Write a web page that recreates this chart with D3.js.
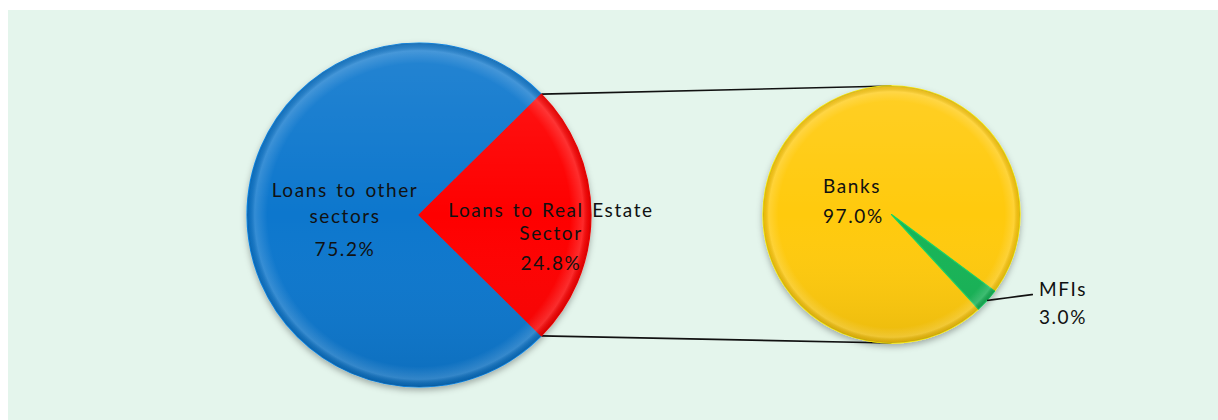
<!DOCTYPE html>
<html lang="en">

<head>
  <title></title>
  <meta charset="UTF-8">
  <style>
    body {
      margin: 0;
      background: #fff;
    }
    text {
      font-family: 'Lato', 'DejaVu Sans', sans-serif;
      font-size: 19px;
      letter-spacing: 1.6px;
      word-spacing: 2px;
      fill: #111;
    }
  </style>
</head>

<body>
  <div id="container"></div>
  <script src="https://cdn.jsdelivr.net/npm/d3@7"></script>
  <script>
    // data
    const mainLabels = ['Loans to other sectors', 'Loans to Real Estate Sector'];
    const mainLines = [['Loans to other', 'sectors'], ['Loans to Real Estate', 'Sector']];
    const mainValues = [75.2, 24.8];
    const subLabels = ['Banks', 'MFIs'];
    const subValues = [97.0, 3.0];

    const size = { w: 1218, h: 420 };
    const mainColor = ['#0b77cd', '#fe0000'];
    const subColor = ['#ffca08', '#13b457'];
    const main = { cx: 419, cy: 215, r: 172 };
    const sub = { cx: 891.5, cy: 214.5, r: 128.5 };
    const fmt = d => d.toFixed(1) + '%';

    const svg = d3.select('#container')
      .append('svg')
      .attr('width', size.w)
      .attr('height', size.h);

    const defs = svg.append('defs');
    const shadow = defs.append('filter')
      .attr('id', 'shadow')
      .attr('x', '-20%').attr('y', '-20%')
      .attr('width', '140%').attr('height', '140%');
    shadow.append('feDropShadow')
      .attr('dx', 0).attr('dy', 3)
      .attr('stdDeviation', 3)
      .attr('flood-color', '#000')
      .attr('flood-opacity', 0.3);

    // rim bevel
    const rim = defs.append('radialGradient').attr('id', 'rim');
    rim.append('stop').attr('offset', '0.88').attr('stop-color', '#fff').attr('stop-opacity', 0);
    rim.append('stop').attr('offset', '0.955').attr('stop-color', '#fff').attr('stop-opacity', 0.16);
    rim.append('stop').attr('offset', '0.99').attr('stop-color', '#000').attr('stop-opacity', 0.08);
    rim.append('stop').attr('offset', '1').attr('stop-color', '#000').attr('stop-opacity', 0.22);
    const light = defs.append('linearGradient').attr('id', 'light')
      .attr('x1', 0).attr('y1', 0).attr('x2', 0).attr('y2', 1);
    light.append('stop').attr('offset', '0').attr('stop-color', '#fff').attr('stop-opacity', 0.1);
    light.append('stop').attr('offset', '0.5').attr('stop-color', '#fff').attr('stop-opacity', 0);
    light.append('stop').attr('offset', '1').attr('stop-color', '#000').attr('stop-opacity', 0.08);

    svg.append('rect')
      .attr('x', 8).attr('y', 10)
      .attr('width', size.w - 8).attr('height', size.h - 10)
      .style('fill', '#e4f5ec');

    const total = d3.sum(mainValues);
    const mainStart = Math.PI / 2 + Math.PI * mainValues[1] / total;
    const subStart = 137.4 * Math.PI / 180;

    const mainArcs = d3.pie().sort(null)
      .startAngle(mainStart).endAngle(mainStart + 2 * Math.PI)(mainValues);
    const subArcs = d3.pie().sort(null)
      .startAngle(subStart).endAngle(subStart + 2 * Math.PI)(subValues);

    function polar(c, r, a) {
      return [c.cx + r * Math.sin(a), c.cy - r * Math.cos(a)];
    }

    // connector lines
    const reArc = mainArcs[1];
    const lines = [
      [polar(main, main.r, reArc.startAngle), [sub.cx, sub.cy - sub.r]],
      [polar(main, main.r, reArc.endAngle), [sub.cx, sub.cy + sub.r]]
    ];
    svg.selectAll('.connector')
      .data(lines)
      .enter()
      .append('line')
      .attr('class', 'connector')
      .attr('x1', d => d[0][0]).attr('y1', d => d[0][1])
      .attr('x2', d => d[1][0]).attr('y2', d => d[1][1])
      .style('stroke', '#111')
      .style('stroke-width', 1.6);

    function drawPie(c, arcs, colors) {
      const g = svg.append('g')
        .attr('transform', `translate(${c.cx},${c.cy})`);
      const arc = d3.arc().innerRadius(0).outerRadius(c.r);
      const slices = g.append('g').attr('filter', 'url(#shadow)');
      slices.selectAll('path')
        .data(arcs)
        .enter()
        .append('path')
        .attr('d', arc)
        .style('fill', (d, i) => colors[i])
        .style('stroke', (d, i) => d3.color(colors[i]).brighter(0.4))
        .style('stroke-width', 1.2)
        .style('stroke-linejoin', 'round');
      g.append('circle').attr('r', c.r).style('fill', 'url(#light)');
      g.append('circle').attr('r', c.r).style('fill', 'url(#rim)');
      return g;
    }

    drawPie(main, mainArcs, mainColor);
    drawPie(sub, subArcs, subColor);

    // main labels
    const mainLabelRadius = [74, 132];
    const mainDy = [[-18, 8, 41], [2, 25, 55]];
    mainArcs.forEach((d, i) => {
      const mid = (d.startAngle + d.endAngle) / 2;
      const p = polar(main, mainLabelRadius[i], mid);
      const t = svg.append('text')
        .attr('text-anchor', 'middle');
      mainLines[i].concat([fmt(mainValues[i])]).forEach((s, j) => {
        t.append('tspan')
          .attr('x', p[0])
          .attr('y', p[1] + mainDy[i][j])
          .text(s);
      });
    });

    // sub labels
    const banks = svg.append('text');
    banks.append('tspan').attr('x', sub.cx - 68.5).attr('y', sub.cy - 21.5).text(subLabels[0]);
    banks.append('tspan').attr('x', sub.cx - 68.5).attr('y', sub.cy + 8.5).text(fmt(subValues[0]));

    const mfi = subArcs[1];
    const mfiMid = (mfi.startAngle + mfi.endAngle) / 2;
    const p0 = polar(sub, sub.r, mfiMid);
    const p1 = [p0[0] + 46, p0[1] - 6];
    svg.append('path')
      .attr('d', d3.line().curve(d3.curveBasis)([p0, [p0[0] + 38, p0[1] - 5], p1]))
      .style('fill', 'none')
      .style('stroke', '#111')
      .style('stroke-width', 1.6);
    const mt = svg.append('text')
      .attr('text-anchor', 'middle');
    mt.append('tspan').attr('x', p1[0] + 30).attr('y', p1[1] + 2).text(subLabels[1]);
    mt.append('tspan').attr('x', p1[0] + 30).attr('y', p1[1] + 30).text(fmt(subValues[1]));
  </script>
</body>

</html>
